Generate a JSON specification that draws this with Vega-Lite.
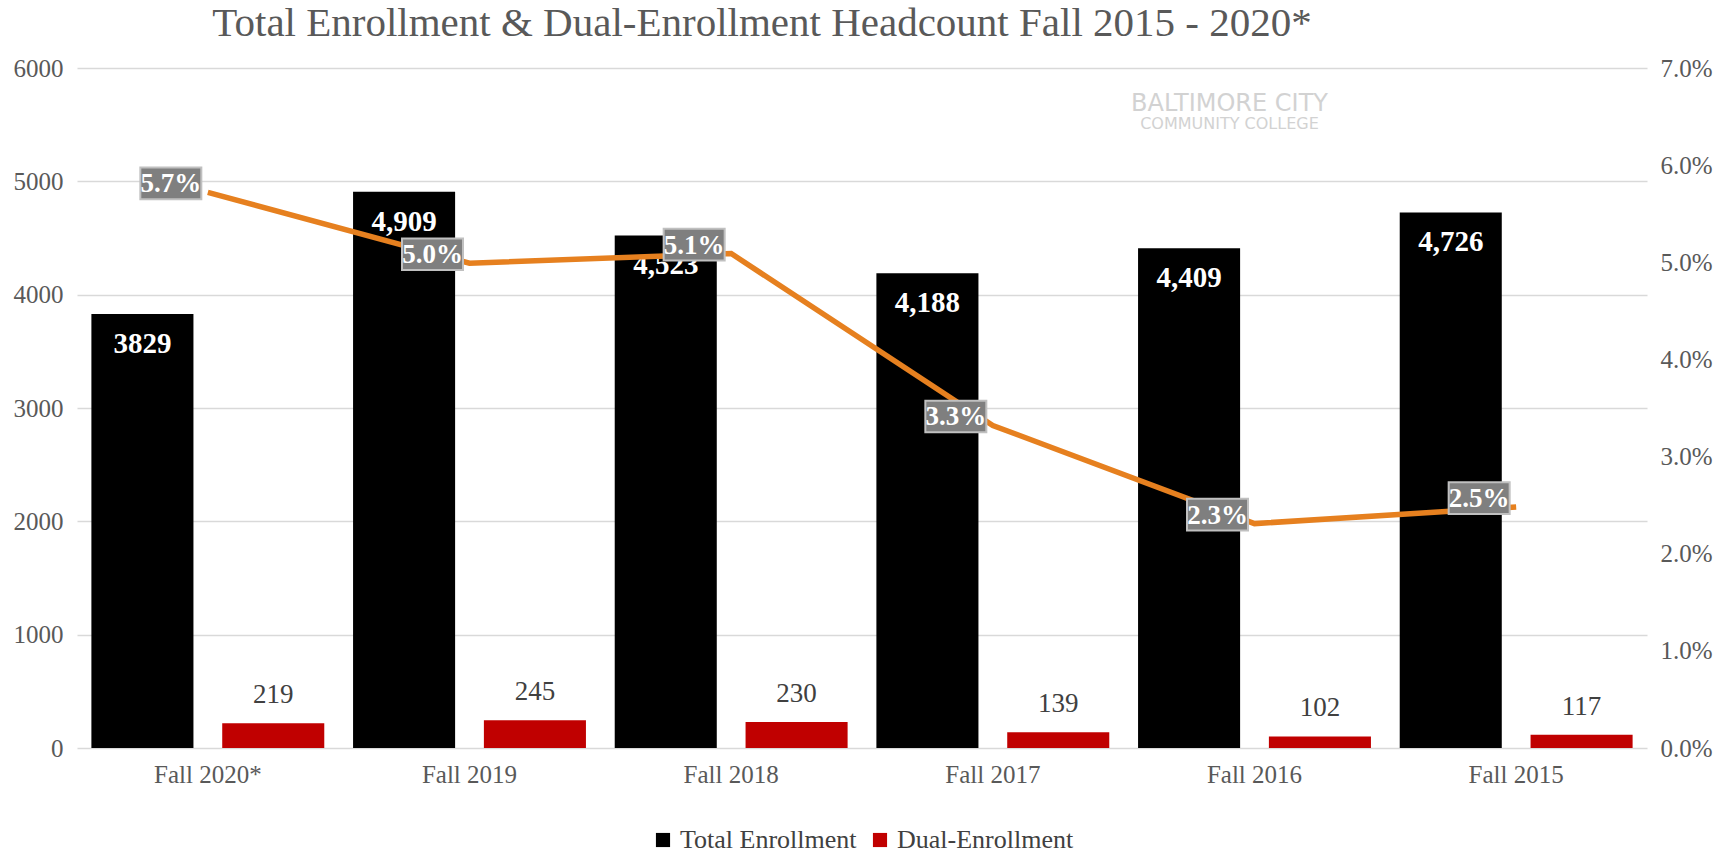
{
  "$schema": "https://vega.github.io/schema/vega-lite/v6.json",
  "width": 1570,
  "height": 680,
  "autosize": {"type": "none"},
  "padding": {"left": 77, "top": 68, "right": 88, "bottom": 105},
  "background": "#ffffff",
  "config": {
    "font": "Liberation Serif",
    "view": {"stroke": null},
    "axis": {"labelFont": "Liberation Serif"},
    "legend": {"labelFont": "Liberation Serif", "layout": {"bottom": {"anchor": "middle"}}}
  },
  "title": {
    "text": "Total Enrollment & Dual-Enrollment Headcount Fall 2015 - 2020*",
    "font": "Liberation Serif",
    "fontSize": 41,
    "fontWeight": "normal",
    "color": "#595959",
    "anchor": "middle",
    "dx": -100,
    "offset": 11
  },
  "datasets": {
    "bars": [
      {"term": "Fall 2020*", "series": "Total Enrollment", "value": 3829, "label": "3829"},
      {"term": "Fall 2020*", "series": "Dual-Enrollment", "value": 219, "label": "219"},
      {"term": "Fall 2019", "series": "Total Enrollment", "value": 4909, "label": "4,909"},
      {"term": "Fall 2019", "series": "Dual-Enrollment", "value": 245, "label": "245"},
      {"term": "Fall 2018", "series": "Total Enrollment", "value": 4523, "label": "4,523"},
      {"term": "Fall 2018", "series": "Dual-Enrollment", "value": 230, "label": "230"},
      {"term": "Fall 2017", "series": "Total Enrollment", "value": 4188, "label": "4,188"},
      {"term": "Fall 2017", "series": "Dual-Enrollment", "value": 139, "label": "139"},
      {"term": "Fall 2016", "series": "Total Enrollment", "value": 4409, "label": "4,409"},
      {"term": "Fall 2016", "series": "Dual-Enrollment", "value": 102, "label": "102"},
      {"term": "Fall 2015", "series": "Total Enrollment", "value": 4726, "label": "4,726"},
      {"term": "Fall 2015", "series": "Dual-Enrollment", "value": 117, "label": "117"}
    ],
    "rate": [
      {"term": "Fall 2020*", "pct": 0.0572},
      {"term": "Fall 2019", "pct": 0.0499},
      {"term": "Fall 2018", "pct": 0.0509},
      {"term": "Fall 2017", "pct": 0.0332},
      {"term": "Fall 2016", "pct": 0.0231},
      {"term": "Fall 2015", "pct": 0.0248}
    ],
    "logo": [{"term": "Fall 2016", "line1": "BALTIMORE CITY", "line2": "COMMUNITY COLLEGE"}]
  },
  "layer": [
    {
      "data": {"name": "bars"},
      "encoding": {
        "x": {
          "field": "term",
          "type": "nominal",
          "sort": ["Fall 2020*", "Fall 2019", "Fall 2018", "Fall 2017", "Fall 2016", "Fall 2015"],
          "scale": {"paddingInner": 0, "paddingOuter": 0},
          "axis": {
            "title": null,
            "labelAngle": 0,
            "labelFontSize": 25,
            "labelColor": "#595959",
            "labelPadding": 14,
            "ticks": false,
            "domain": false
          }
        },
        "xOffset": {
          "field": "series",
          "sort": ["Total Enrollment", "Dual-Enrollment"],
          "scale": {"paddingInner": 0.22, "paddingOuter": 0.11}
        },
        "y": {
          "field": "value",
          "type": "quantitative",
          "scale": {"domain": [0, 6000]},
          "axis": {
            "title": null,
            "values": [0, 1000, 2000, 3000, 4000, 5000, 6000],
            "format": "d",
            "gridColor": "#d9d9d9",
            "gridWidth": 1.5,
            "domain": false,
            "ticks": false,
            "labelPadding": 14,
            "labelFontSize": 25,
            "labelColor": "#595959"
          }
        }
      },
      "layer": [
        {
          "mark": {"type": "bar"},
          "encoding": {
            "color": {
              "field": "series",
              "type": "nominal",
              "scale": {"domain": ["Total Enrollment", "Dual-Enrollment"], "range": ["#000000", "#c00000"]},
              "legend": {
                "orient": "bottom",
                "title": null,
                "direction": "horizontal",
                "symbolType": "square",
                "symbolSize": 200,
                "symbolStrokeWidth": 0,
                "labelFontSize": 26,
                "labelLimit": 0,
                "labelColor": "#404040",
                "columnPadding": 10,
                "offset": 40
              }
            }
          }
        },
        {
          "transform": [{"filter": "datum.series === 'Total Enrollment'"}],
          "mark": {"type": "text", "baseline": "top", "dy": 16, "color": "#ffffff", "fontWeight": "bold", "fontSize": 29},
          "encoding": {"text": {"field": "label"}}
        },
        {
          "transform": [{"filter": "datum.series === 'Dual-Enrollment'"}],
          "mark": {"type": "text", "baseline": "bottom", "dy": -14, "color": "#404040", "fontSize": 27},
          "encoding": {"text": {"field": "label"}}
        }
      ]
    },
    {
      "data": {"name": "rate"},
      "encoding": {
        "x": {
          "field": "term",
          "type": "nominal",
          "sort": ["Fall 2020*", "Fall 2019", "Fall 2018", "Fall 2017", "Fall 2016", "Fall 2015"]
        },
        "y": {
          "field": "pct",
          "type": "quantitative",
          "scale": {"domain": [0, 0.07]},
          "axis": {
            "title": null,
            "orient": "right",
            "values": [0, 0.01, 0.02, 0.03, 0.04, 0.05, 0.06, 0.07],
            "format": ".1%",
            "grid": false,
            "domain": false,
            "ticks": false,
            "labelPadding": 13,
            "labelFontSize": 25,
            "labelColor": "#595959"
          }
        }
      },
      "layer": [
        {
          "mark": {"type": "line", "color": "#e6801f", "strokeWidth": 5.5}
        },
        {
          "mark": {
            "type": "point",
            "shape": "M-1,-0.52H1V0.52H-1Z",
            "size": 3721,
            "filled": true,
            "fill": "#7f7f7f",
            "stroke": "#c0c0c0",
            "strokeWidth": 2,
            "opacity": 1,
            "xOffset": -37,
            "yOffset": -9
          }
        },
        {
          "mark": {"type": "text", "align": "center", "baseline": "middle", "dx": -37, "dy": -8, "color": "#ffffff", "fontWeight": "bold", "fontSize": 27},
          "encoding": {"text": {"field": "pct", "type": "quantitative", "format": ".1%"}}
        }
      ]
    },
    {
      "data": {"name": "logo"},
      "encoding": {
        "x": {
          "field": "term",
          "type": "nominal",
          "sort": ["Fall 2020*", "Fall 2019", "Fall 2018", "Fall 2017", "Fall 2016", "Fall 2015"]
        }
      },
      "layer": [
        {
          "mark": {"type": "text", "font": "DejaVu Sans", "fontSize": 24, "color": "#d2d2d2", "dx": -25},
          "encoding": {
            "y": {"datum": 0.0663, "type": "quantitative", "scale": {"domain": [0, 0.07]}, "axis": null},
            "text": {"field": "line1", "type": "nominal"}
          }
        },
        {
          "mark": {"type": "text", "font": "DejaVu Sans", "fontSize": 16, "color": "#d2d2d2", "dx": -25},
          "encoding": {
            "y": {"datum": 0.0642, "type": "quantitative", "scale": {"domain": [0, 0.07]}, "axis": null},
            "text": {"field": "line2", "type": "nominal"}
          }
        }
      ]
    }
  ],
  "resolve": {"scale": {"y": "independent"}}
}
